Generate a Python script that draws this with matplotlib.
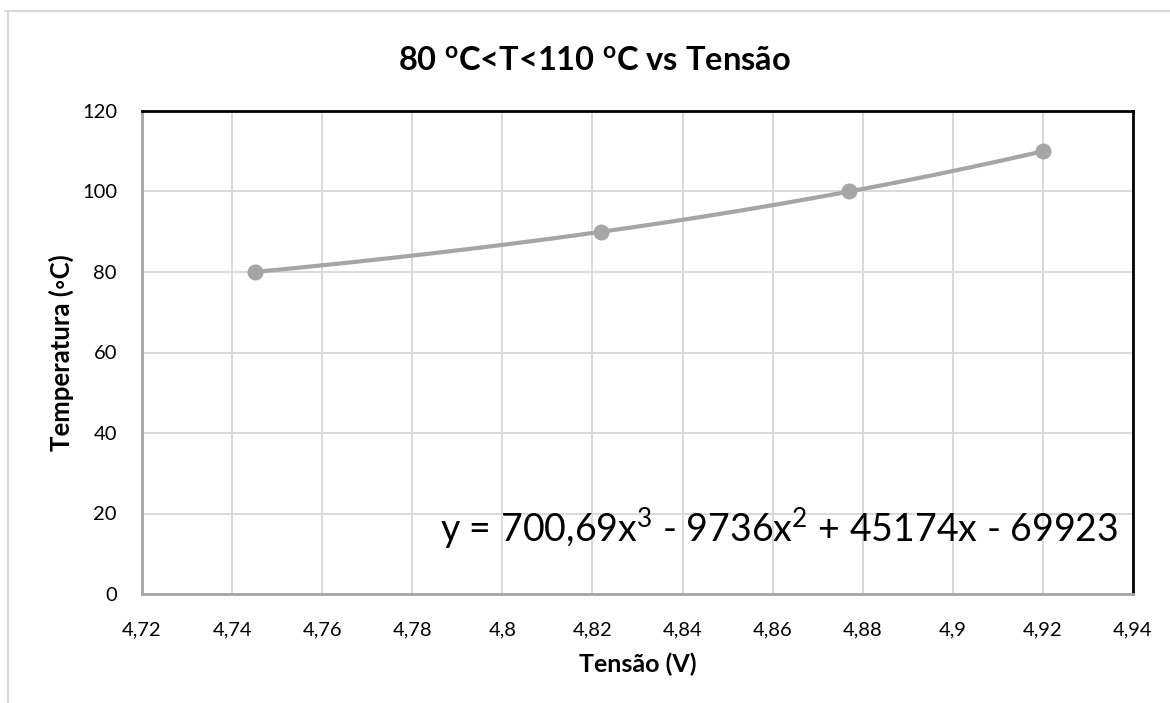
import numpy as np
import matplotlib
matplotlib.use("Agg")
import matplotlib.pyplot as plt
from matplotlib.lines import Line2D

plt.rcParams['font.family'] = ['Lato', 'DejaVu Sans']
plt.rcParams['mathtext.default'] = 'regular'

# Measured points: voltage (V) vs temperature (°C)
tensao = [4.745, 4.822, 4.877, 4.920]
temperatura = [80, 90, 100, 110]

x_ticks = [4.72, 4.74, 4.76, 4.78, 4.80, 4.82, 4.84, 4.86, 4.88, 4.90, 4.92, 4.94]
x_tick_labels = ["4,72", "4,74", "4,76", "4,78", "4,8", "4,82", "4,84", "4,86",
                 "4,88", "4,9", "4,92", "4,94"]
y_ticks = [0, 20, 40, 60, 80, 100, 120]

title = r"80 $^{o}$C<T<110 $^{o}$C vs Tensão"
equation = r"y = 700,69x$^{3}$ - 9736x$^{2}$ + 45174x - 69923"

series_color = "#A5A5A5"
grid_color = "#D9D9D9"

fig = plt.figure(figsize=(11.70, 7.03), dpi=100)
ax = fig.add_axes([142 / 1170, 1 - 594 / 703, (1133 - 142) / 1170, (594 - 111) / 703])

# Polynomial (order 3) trendline through the measurements
coef = np.polyfit(tensao, temperatura, 3)
xs = np.linspace(min(tensao), max(tensao), 300)
ax.plot(xs, np.polyval(coef, xs), color=series_color, lw=3.0, zorder=3,
        solid_capstyle='round')
ax.plot(tensao, temperatura, 'o', color=series_color, markersize=10.5, zorder=4)

ax.set_xlim(4.72, 4.94)
ax.set_ylim(0, 120)
ax.set_xticks(x_ticks)
ax.set_xticklabels(x_tick_labels)
ax.set_yticks(y_ticks)
ax.grid(True, color=grid_color, lw=1.4)
ax.set_axisbelow(True)
ax.tick_params(length=0, labelsize=14.5, colors="#000000")
ax.tick_params(axis='y', pad=18)
ax.tick_params(axis='x', pad=20)

for side in ('top', 'right'):
    ax.spines[side].set_color('#000000')
    ax.spines[side].set_linewidth(2.0)
for side in ('bottom', 'left'):
    ax.spines[side].set_color('#A6A6A6')
    ax.spines[side].set_linewidth(2.0)

ax.set_xlabel("Tensão (V)", fontsize=18, fontweight='bold', labelpad=10)
ax.set_ylabel("Temperatura (◦C)", fontsize=18.5, fontweight='bold', labelpad=6)

fig.text(594 / 1170, 1 - 60 / 703, title, ha='center', va='center',
         fontsize=23.5, fontweight='bold')

ax.text(0.985, 0.135, equation, transform=ax.transAxes, ha='right', va='center',
        fontsize=27, zorder=5)

# Chart frame
fig.add_artist(Line2D([5 / 1170, 1], [1 - 11 / 703, 1 - 11 / 703],
                      transform=fig.transFigure, color=grid_color, lw=1.5))
fig.add_artist(Line2D([8 / 1170, 8 / 1170], [0, 1 - 11 / 703],
                      transform=fig.transFigure, color=grid_color, lw=1.5))

fig.savefig("out.png", dpi=100)
